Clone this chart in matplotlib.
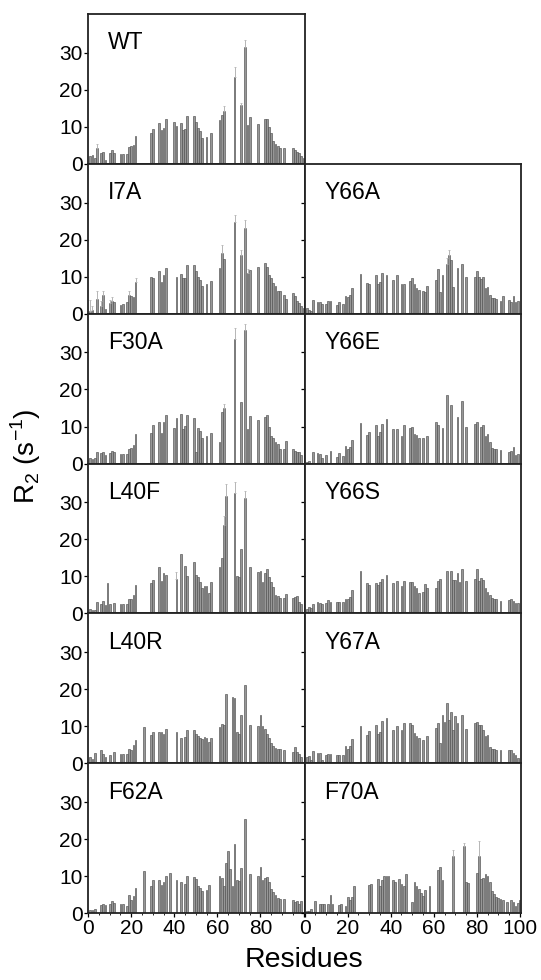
import numpy as np
import matplotlib
matplotlib.use('Agg')
import matplotlib.pyplot as plt
from matplotlib.ticker import MultipleLocator

plt.rcParams['font.family'] = ['Liberation Sans', 'DejaVu Sans']
plt.rcParams['mathtext.fontset'] = 'custom'
plt.rcParams['mathtext.rm'] = 'Liberation Sans'

# R2 (s^-1) per residue. missing residues are just left out
wt_res = [1, 2, 3, 4, 6, 7, 8, 10, 11, 12, 15, 16, 18, 19, 20, 21, 22, 29, 30, 33, 34, 35, 36, 40, 41,
          43, 44, 45, 46, 49, 50, 51, 52, 53, 55, 57, 61, 62, 63, 68, 71, 73, 74, 75, 79, 82, 83, 84,
          85, 86, 87, 88, 89, 91, 95, 96, 97, 98, 99, 100]
wt_r2 = [2.0, 2.3, 1.6, 4.3, 2.8, 3.2, 1.0, 2.8, 3.6, 3.0, 2.7, 2.7, 2.7, 4.6, 4.8, 5.1, 7.5, 8.3, 9.3,
         11.0, 9.0, 9.5, 12.0, 11.2, 10.2, 10.9, 9.0, 9.3, 13.0, 13.0, 11.3, 9.7, 8.9, 6.8, 7.2, 8.3,
         11.8, 13.2, 14.3, 23.3, 15.9, 31.5, 10.4, 12.5, 10.8, 12.1, 12.0, 9.9, 8.4, 6.2, 5.3, 4.9,
         4.3, 4.3, 4.2, 3.8, 3.1, 2.8, 2.2, 1.5]

i7a_res = [1, 2, 4, 6, 7, 8, 10, 11, 12, 15, 16, 18, 19, 20, 21, 22, 29, 30, 33, 34, 35, 36, 41, 43, 44,
           45, 46, 49, 50, 51, 52, 53, 55, 57, 61, 62, 63, 68, 71, 73, 74, 75, 79, 82, 83, 84, 85, 86,
           87, 88, 89, 91, 92, 95, 96, 97, 98, 99, 100]
i7a_r2 = [0.7, 1.0, 4.0, 2.0, 5.0, 1.2, 2.8, 3.5, 3.0, 2.4, 2.7, 3.2, 5.0, 4.7, 4.5, 8.5, 9.8, 9.7,
          11.5, 8.6, 10.5, 12.3, 10.0, 10.8, 9.5, 9.5, 13.1, 13.2, 11.6, 9.8, 9.0, 7.5, 8.0, 8.8,
          12.2, 16.4, 14.8, 24.7, 15.7, 23.2, 11.0, 11.8, 12.5, 13.6, 12.5, 10.5, 9.5, 8.2, 7.5, 6.0,
          6.0, 5.0, 4.0, 5.5, 4.8, 3.5, 2.8, 2.0, 1.5]

f30a_res = [1, 2, 3, 4, 6, 7, 8, 10, 11, 12, 15, 16, 18, 19, 20, 21, 22, 29, 30, 33, 34, 35, 36, 40,
            41, 43, 44, 45, 46, 49, 50, 51, 52, 53, 55, 57, 61, 62, 63, 68, 71, 73, 74, 75, 79, 82,
            83, 84, 85, 86, 87, 88, 89, 91, 92, 95, 96, 97, 98, 99]
f30a_r2 = [1.5, 1.2, 1.5, 3.0, 2.8, 3.0, 2.3, 2.8, 3.3, 3.0, 2.5, 2.5, 2.5, 3.8, 4.2, 5.0, 8.0, 8.3,
           10.3, 11.3, 8.3, 11.3, 13.0, 9.7, 12.3, 13.3, 9.4, 10.2, 13.0, 12.2, 3.0, 9.7, 8.8, 6.8,
           7.5, 8.2, 5.8, 13.8, 15.0, 33.7, 16.5, 36.2, 9.2, 12.8, 11.8, 12.5, 13.2, 10.0, 7.5, 6.8,
           5.8, 5.2, 4.0, 4.0, 6.2, 4.0, 3.5, 3.0, 3.2, 2.3]

l40f_res = [1, 2, 3, 4, 6, 7, 8, 9, 10, 12, 15, 16, 18, 19, 20, 21, 22, 29, 30, 33, 34, 35, 36, 41, 43,
            45, 46, 49, 50, 51, 52, 53, 54, 55, 56, 57, 61, 62, 63, 64, 68, 69, 70, 71, 73, 75, 79,
            80, 81, 82, 83, 84, 85, 86, 87, 88, 89, 91, 92, 95, 96, 97, 98, 99]
l40f_r2 = [1.1, 0.9, 1.0, 3.0, 2.5, 3.3, 2.2, 8.3, 2.6, 2.7, 2.5, 2.6, 2.6, 3.8, 3.9, 4.9, 7.6, 8.3,
           9.0, 12.6, 8.9, 10.9, 10.5, 9.2, 16.2, 12.8, 10.0, 13.8, 10.5, 9.8, 8.5, 7.0, 7.5, 7.5,
           5.5, 8.6, 12.6, 15.0, 23.8, 31.8, 32.6, 10.0, 9.8, 17.5, 31.2, 12.5, 11.3, 11.5, 8.6,
           10.8, 12.0, 9.8, 8.5, 7.2, 5.0, 4.8, 4.2, 4.2, 5.2, 4.2, 4.5, 4.8, 3.0, 2.5]

l40r_res = [1, 2, 3, 6, 7, 8, 10, 12, 15, 16, 18, 19, 20, 21, 22, 26, 29, 30, 33, 34, 35, 36, 41, 43,
            45, 46, 49, 50, 51, 52, 53, 54, 55, 56, 57, 61, 62, 63, 64, 67, 68, 69, 70, 71, 73, 75,
            79, 80, 81, 82, 83, 84, 85, 86, 87, 88, 89, 91, 95, 96, 97, 98, 99]
l40r_r2 = [1.6, 1.2, 2.7, 3.5, 2.5, 1.7, 2.2, 3.0, 2.5, 2.5, 2.5, 3.8, 3.5, 5.0, 6.2, 9.9, 7.7, 8.5,
           8.6, 8.5, 8.0, 9.2, 8.5, 6.8, 7.2, 8.9, 8.9, 8.0, 7.5, 7.0, 6.5, 7.2, 6.8, 5.8, 7.0, 9.9,
           10.6, 10.5, 18.8, 18.0, 17.8, 8.6, 8.0, 13.0, 21.2, 10.4, 10.0, 13.0, 10.0, 9.3, 8.0,
           7.0, 5.5, 4.8, 4.3, 4.0, 3.8, 3.5, 3.2, 4.5, 3.0, 2.5, 1.8]

f62a_res = [1, 2, 3, 6, 7, 8, 10, 11, 12, 15, 16, 18, 19, 20, 21, 22, 26, 29, 30, 33, 34, 35, 36, 38,
            41, 43, 45, 46, 49, 50, 51, 52, 53, 55, 56, 61, 62, 63, 64, 65, 66, 67, 68, 69, 70, 71,
            73, 75, 79, 80, 81, 82, 83, 84, 85, 86, 87, 88, 89, 91, 95, 96, 97, 98, 99]
f62a_r2 = [1.0, 0.8, 1.3, 2.3, 2.5, 2.2, 2.5, 3.3, 2.7, 2.6, 2.4, 2.0, 5.0, 3.7, 4.8, 6.8, 11.5, 7.5,
           9.0, 9.1, 7.6, 8.5, 10.0, 11.0, 9.1, 8.6, 7.8, 10.0, 9.8, 9.2, 7.5, 6.9, 6.0, 6.3, 7.6,
           10.0, 9.5, 7.5, 13.5, 16.8, 12.0, 7.5, 18.6, 9.0, 8.8, 12.2, 25.5, 10.5, 10.0, 12.6, 9.0,
           9.5, 9.7, 8.5, 6.7, 5.9, 5.0, 4.2, 3.9, 3.9, 3.6, 3.2, 3.3, 2.5, 3.3]

y66a_res = [1, 2, 3, 4, 6, 7, 8, 10, 11, 12, 15, 16, 18, 19, 20, 21, 22, 26, 29, 30, 33, 34, 35, 36,
            38, 41, 43, 45, 46, 49, 50, 51, 52, 53, 55, 56, 57, 61, 62, 63, 64, 66, 67, 68, 69, 71,
            73, 75, 79, 80, 81, 82, 83, 84, 85, 86, 87, 88, 89, 91, 92, 95, 96, 97, 98, 99]
y66a_r2 = [1.5, 1.0, 0.8, 3.6, 3.2, 3.0, 2.5, 2.5, 3.5, 3.5, 2.3, 3.0, 2.6, 4.8, 4.5, 5.0, 6.9, 10.6,
           8.2, 8.0, 10.3, 8.0, 8.5, 11.0, 10.5, 9.0, 10.3, 8.0, 8.0, 8.8, 9.5, 8.0, 7.0, 6.4, 6.0,
           5.8, 7.4, 9.2, 12.0, 5.7, 10.5, 13.4, 15.7, 14.6, 7.2, 12.3, 13.5, 9.8, 9.8, 11.5, 10.0,
           9.3, 9.8, 6.8, 7.3, 5.0, 4.3, 4.3, 4.0, 3.5, 4.7, 3.7, 3.2, 4.8, 3.0, 3.3]

y66e_res = [1, 2, 4, 6, 7, 8, 10, 12, 15, 16, 18, 19, 20, 21, 22, 26, 29, 30, 33, 34, 35, 36, 38, 41,
            43, 45, 46, 49, 50, 51, 52, 53, 55, 57, 61, 62, 64, 66, 68, 71, 73, 75, 79, 80, 82, 83,
            84, 85, 86, 87, 88, 89, 91, 95, 96, 97, 98, 99]
y66e_r2 = [0.5, 0.8, 3.2, 2.8, 2.5, 1.5, 2.3, 3.3, 1.8, 2.8, 2.0, 4.8, 3.8, 4.5, 6.4, 11.0, 7.8, 8.5,
           10.3, 7.5, 8.5, 10.7, 12.0, 9.2, 9.4, 7.5, 10.5, 9.5, 10.0, 8.0, 7.6, 7.0, 7.0, 7.4, 11.2,
           10.4, 9.5, 18.4, 15.8, 12.6, 16.8, 10.0, 10.8, 11.2, 10.0, 10.5, 7.5, 8.0, 5.7, 4.2, 3.9,
           3.8, 3.7, 3.2, 3.5, 4.6, 2.3, 2.5]

y66s_res = [1, 2, 3, 4, 6, 7, 8, 10, 11, 12, 15, 16, 18, 19, 20, 21, 22, 26, 29, 30, 33, 34, 35, 36,
            38, 41, 43, 45, 46, 49, 50, 51, 52, 53, 55, 56, 57, 61, 62, 63, 66, 68, 69, 70, 71, 72,
            73, 75, 79, 80, 81, 82, 83, 84, 85, 86, 87, 88, 89, 91, 95, 96, 97, 98, 99]
y66s_r2 = [1.3, 1.8, 1.5, 2.5, 3.0, 2.8, 2.5, 2.8, 3.6, 3.0, 3.0, 3.0, 3.0, 4.0, 3.8, 4.5, 6.4, 11.6,
           8.3, 7.8, 8.3, 7.8, 8.6, 9.4, 10.5, 8.2, 8.7, 7.5, 8.9, 8.4, 8.4, 7.5, 7.0, 5.5, 5.7, 8.0,
           6.8, 7.0, 8.8, 9.3, 11.5, 11.5, 9.0, 9.0, 10.8, 8.5, 12.0, 8.7, 9.2, 12.0, 8.8, 9.5, 9.0,
           7.0, 5.8, 5.0, 4.3, 4.0, 3.8, 3.5, 3.7, 3.8, 3.3, 2.7, 2.8]

y67a_res = [1, 2, 3, 4, 6, 7, 8, 10, 11, 12, 15, 16, 18, 19, 20, 21, 22, 26, 29, 30, 33, 34, 35, 36,
            38, 41, 43, 45, 46, 49, 50, 51, 52, 53, 55, 57, 61, 62, 63, 64, 65, 66, 67, 68, 69, 70,
            71, 73, 75, 79, 80, 81, 82, 83, 84, 85, 86, 87, 88, 89, 91, 95, 96, 97, 98, 99]
y67a_r2 = [1.6, 2.0, 1.0, 3.3, 2.7, 2.8, 0.8, 2.3, 2.5, 2.6, 2.2, 2.4, 2.3, 4.8, 4.0, 4.8, 6.6, 10.0,
           7.8, 8.8, 10.3, 8.0, 8.6, 11.4, 12.3, 9.1, 10.2, 8.9, 10.8, 11.0, 10.5, 8.2, 7.5, 6.8,
           6.2, 7.3, 9.5, 10.8, 5.5, 13.0, 11.2, 16.3, 11.8, 14.0, 9.0, 12.8, 11.0, 13.0, 9.2, 10.9,
           11.3, 10.5, 10.3, 9.0, 7.5, 7.6, 4.5, 4.0, 3.8, 3.5, 3.6, 3.7, 3.5, 2.9, 2.3, 1.5]

f70a_res = [1, 2, 3, 5, 7, 8, 9, 11, 12, 13, 16, 17, 19, 20, 21, 22, 23, 30, 31, 34, 35, 36, 37, 38,
            39, 41, 42, 44, 45, 46, 47, 50, 51, 52, 53, 54, 55, 56, 58, 62, 63, 64, 69, 74, 75, 76,
            80, 81, 82, 83, 84, 85, 86, 87, 88, 89, 90, 91, 92, 94, 96, 97, 98, 99, 100]
f70a_r2 = [0.6, 0.6, 1.3, 3.4, 2.4, 2.6, 2.4, 2.6, 5.0, 2.5, 2.3, 2.6, 2.0, 4.5, 3.5, 4.4, 7.5, 7.6,
           8.0, 9.3, 7.5, 9.0, 10.2, 10.0, 10.2, 9.0, 8.5, 9.3, 7.8, 7.5, 10.5, 3.0, 8.6, 7.5, 6.5,
           5.6, 4.8, 6.2, 7.3, 11.8, 12.5, 9.0, 15.5, 18.2, 8.5, 8.2, 10.8, 15.5, 9.4, 9.5, 10.5,
           10.0, 8.4, 6.0, 5.3, 4.5, 4.2, 3.8, 3.5, 3.2, 3.5, 3.2, 2.0, 2.8, 3.5]

# the error bars that are big enough to see (upper half only)
err_res = {'WT': [4, 63, 68, 71, 73],
           'I7A': [1, 2, 4, 6, 7, 10, 11, 19, 22, 62, 68, 71, 73, 74],
           'F30A': [63, 68, 73],
           'L40F': [41, 63, 64, 68, 73],
           'Y66A': [66, 67],
           'F70A': [69, 74, 81]}
err_val = {'WT': [1.0, 1.3, 2.8, 0.6, 1.8],
           'I7A': [3.0, 1.0, 2.0, 1.5, 1.2, 1.0, 1.0, 1.0, 1.0, 2.0, 2.0, 1.5, 2.0, 1.0],
           'F30A': [1.0, 3.0, 1.5],
           'L40F': [2.0, 2.5, 3.3, 3.0, 2.0],
           'Y66A': [1.5, 1.5],
           'F70A': [1.5, 0.8, 4.0]}

panels = [('WT', wt_res, wt_r2, 0, 0),
          ('I7A', i7a_res, i7a_r2, 1, 0),
          ('F30A', f30a_res, f30a_r2, 2, 0),
          ('L40F', l40f_res, l40f_r2, 3, 0),
          ('L40R', l40r_res, l40r_r2, 4, 0),
          ('F62A', f62a_res, f62a_r2, 5, 0),
          ('Y66A', y66a_res, y66a_r2, 1, 1),
          ('Y66E', y66e_res, y66e_r2, 2, 1),
          ('Y66S', y66s_res, y66s_r2, 3, 1),
          ('Y67A', y67a_res, y67a_r2, 4, 1),
          ('F70A', f70a_res, f70a_r2, 5, 1)]

fig, axes = plt.subplots(6, 2, figsize=(5.41, 9.8), dpi=100)
fig.subplots_adjust(left=0.163, right=0.963, top=0.986, bottom=0.068, hspace=0, wspace=0)
axes[0, 1].remove()

for name, res, r2, row, col in panels:
    ax = axes[row, col]
    ax.bar(res, r2, width=0.82, color='#979797', edgecolor='#505050', linewidth=0.45)
    if name in err_res:
        lookup = dict(zip(res, r2))
        ey = [lookup[r] for r in err_res[name]]
        ax.errorbar(err_res[name], ey, yerr=[np.zeros(len(ey)), err_val[name]], fmt='none',
                    ecolor='#b5b5b5', elinewidth=0.7, capsize=1.0, capthick=0.6)
    ax.set_xlim(0, 100.5)
    ax.set_ylim(0, 40.5)
    ax.xaxis.set_major_locator(MultipleLocator(20))
    ax.xaxis.set_minor_locator(MultipleLocator(5))
    ax.set_yticks([0, 10, 20, 30])
    ax.tick_params(which='major', direction='out', length=3, width=0.9, labelsize=15, pad=1)
    ax.tick_params(which='minor', direction='out', length=1.5, width=0.6)
    for s in ax.spines.values():
        s.set_linewidth(1.3)
        s.set_color('#222222')
    if col == 1:
        ax.tick_params(axis='y', labelleft=False)
    if row < 5:
        ax.tick_params(axis='x', labelbottom=False)
    ax.text(0.09, 0.885, name, transform=ax.transAxes, fontsize=16.5, va='top', ha='left')

axes[5, 0].set_xticks([0, 20, 40, 60, 80, 100])
axes[5, 0].set_xticklabels(['0', '20', '40', '60', '80', ''])

fig.text(0.048, 0.535, r'R$_\mathregular{2}$ (s$^\mathregular{-1}$)', rotation=90,
         fontsize=20, ha='center', va='center')
fig.text(0.562, 0.02, 'Residues', fontsize=20.5, ha='center', va='center')

fig.savefig('out.png', dpi=100)
